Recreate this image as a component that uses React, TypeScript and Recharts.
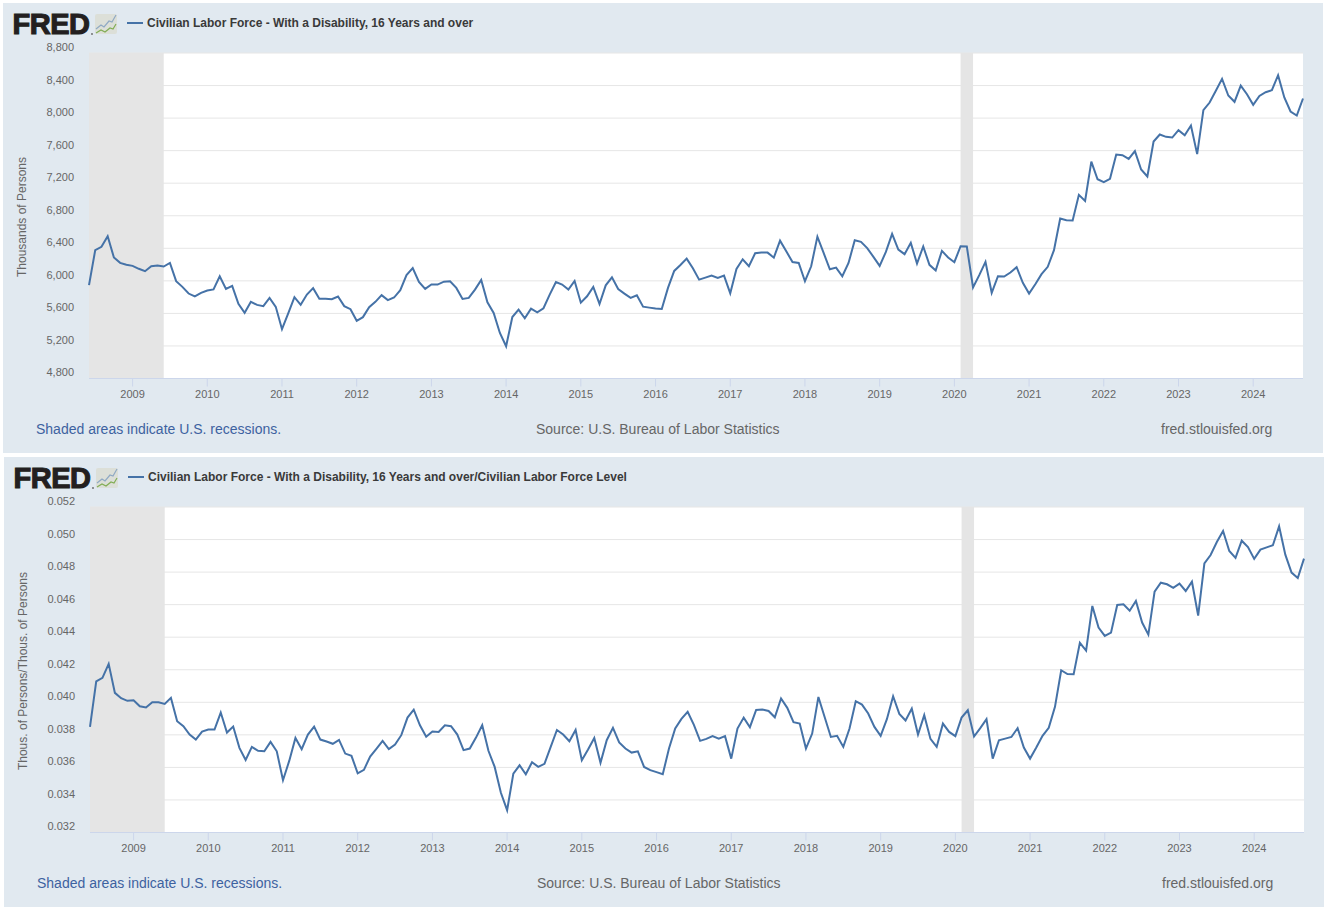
import React from "react";
import { LineChart, Line, XAxis, YAxis, CartesianGrid, ReferenceArea } from "recharts";

const yearLabels = ["2009","2010","2011","2012","2013","2014","2015","2016","2017","2018","2019","2020","2021","2022","2023","2024"];
const yearTicks = [7,19,31,43,55,67,79,91,103,115,127,139,151,163,175,187];
// month index since June 2008
const recessions = [[0,12],[140,142]];

const laborForce = [
5947,6377,6418,6549,6287,6221,6197,6184,6148,6119,6180,6188,6176,6221,5996,5926,5844,5808,5853,5881,
5894,6057,5902,5939,5717,5607,5742,5705,5689,5791,5681,5406,5599,5799,5705,5832,5910,5779,5779,5775,
5808,5689,5652,5509,5554,5677,5742,5824,5763,5795,5885,6070,6156,5988,5902,5955,5954,5990,5995,5913,
5778,5790,5892,6011,5737,5605,5360,5196,5556,5646,5540,5659,5614,5663,5831,5986,5954,5892,5999,5732,
5810,5925,5716,5945,6044,5900,5843,5790,5823,5683,5671,5659,5655,5913,6122,6195,6273,6154,6015,6040,
6064,6036,6064,5847,6146,6265,6179,6339,6347,6347,6285,6494,6363,6232,6220,5995,6179,6543,6343,6142,
6163,6056,6220,6498,6479,6402,6295,6184,6356,6578,6385,6328,6467,6213,6422,6197,6127,6369,6287,6229,
6426,6422,5918,6070,6234,5853,6057,6053,6103,6168,5976,5844,5959,6082,6172,6377,6766,6746,6741,7057,
6983,7466,7249,7213,7254,7552,7544,7499,7594,7368,7282,7712,7798,7770,7761,7852,7790,7909,7557,8097,
8191,8335,8482,8277,8200,8400,8294,8163,8273,8318,8343,8527,8253,8081,8032,8241];

const laborShare = [
0.03849,0.04129,0.04150,0.04236,0.04058,0.04025,0.04009,0.04013,0.03976,0.03968,0.04000,0.04000,0.03990,0.04027,0.03884,0.03853,0.03802,0.03771,0.03820,0.03833,
0.03833,0.03937,0.03814,0.03851,0.03720,0.03646,0.03726,0.03702,0.03699,0.03757,0.03699,0.03521,0.03640,0.03781,0.03712,0.03802,0.03851,0.03771,0.03759,0.03745,
0.03769,0.03685,0.03671,0.03564,0.03585,0.03667,0.03714,0.03763,0.03712,0.03740,0.03798,0.03906,0.03955,0.03859,0.03788,0.03820,0.03818,0.03859,0.03853,0.03802,
0.03706,0.03716,0.03783,0.03859,0.03702,0.03603,0.03444,0.03337,0.03562,0.03613,0.03558,0.03632,0.03603,0.03622,0.03726,0.03830,0.03802,0.03761,0.03830,0.03644,
0.03710,0.03781,0.03628,0.03767,0.03843,0.03753,0.03716,0.03691,0.03699,0.03603,0.03583,0.03571,0.03558,0.03716,0.03839,0.03898,0.03941,0.03861,0.03763,0.03775,
0.03792,0.03777,0.03792,0.03654,0.03839,0.03906,0.03847,0.03953,0.03955,0.03947,0.03908,0.04023,0.03966,0.03878,0.03869,0.03716,0.03808,0.04033,0.03910,0.03787,
0.03794,0.03726,0.03839,0.04007,0.03986,0.03931,0.03849,0.03794,0.03896,0.04037,0.03929,0.03888,0.03961,0.03802,0.03921,0.03775,0.03726,0.03869,0.03818,0.03792,
0.03906,0.03951,0.03790,0.03841,0.03896,0.03654,0.03767,0.03777,0.03787,0.03841,0.03722,0.03654,0.03722,0.03794,0.03843,0.03972,0.04197,0.04174,0.04172,0.04365,
0.04318,0.04592,0.04459,0.04408,0.04428,0.04598,0.04602,0.04563,0.04623,0.04490,0.04416,0.04680,0.04735,0.04725,0.04703,0.04729,0.04684,0.04741,0.04533,0.04854,
0.04905,0.04985,0.05053,0.04930,0.04887,0.04993,0.04954,0.04881,0.04938,0.04952,0.04965,0.05081,0.04907,0.04797,0.04764,0.04883];

const ticksA = [4800,5200,5600,6000,6400,6800,7200,7600,8000,8400,8800];
const ticksB = [0.032,0.034,0.036,0.038,0.04,0.042,0.044,0.046,0.048,0.05,0.052];

const titleA = "Civilian Labor Force - With a Disability, 16 Years and over";
const titleB = "Civilian Labor Force - With a Disability, 16 Years and over/Civilian Labor Force Level";
const unitA = "Thousands of Persons";
const unitB = "Thous. of Persons/Thous. of Persons";
const noteText = "Shaded areas indicate U.S. recessions.";
const sourceText = "Source: U.S. Bureau of Labor Statistics";
const siteText = "fred.stlouisfed.org";

const FONT = '"Liberation Sans", Arial, sans-serif';
const W = 1320;
const H = 450;
const LINE = "#4572a7";

function Logo() {
  return (
    <svg width={112} height={30} style={{ position: "absolute", left: 8, top: 6 }}>
      <text x={1.5} y={25} fontFamily={FONT} fontWeight={700} fontSize={29} letterSpacing={-0.5} fill="#231f20" stroke="#231f20" strokeWidth={1.1}>FRED</text>
      <circle cx={81} cy={25} r={0.9} fill="#666" />
      <rect x={84} y={5} width={22} height={20} rx={2} fill="#dcdfd8" />
      <polyline points="85,20 90,16 93,18 98,12 101,13 105,6" fill="none" stroke="#8fa9c4" strokeWidth={1.2} />
      <polyline points="85,24 90,21 94,23 99,19 102,20 105,15" fill="none" stroke="#82ad55" strokeWidth={1.2} />
    </svg>
  );
}

function YTick(props: any) {
  const { y, payload, fmt } = props;
  return (
    <text x={71} y={y - 2.05} textAnchor="end" fontFamily={FONT} fontSize={11} fill="#666666">{fmt(payload.value)}</text>
  );
}

function XTick(props: any) {
  const { x, y, payload } = props;
  const label = yearLabels[yearTicks.indexOf(payload.value)];
  return (
    <g>
      <line x1={x} x2={x} y1={y - 10} y2={y - 2} stroke="#ccd6eb" strokeWidth={1} />
      <text x={x} y={y + 9} textAnchor="middle" fontFamily={FONT} fontSize={11} fill="#666666">{label}</text>
    </g>
  );
}

function Panel({ left, top, values, ticks, fmt, title, unit }: any) {
  const rows = values.map((value: number, idx: number) => ({ idx, value }));
  return (
    <div style={{ position: "absolute", left, top, width: W, height: H, background: "#e1e9f0", fontFamily: FONT }}>
      <Logo />
      <div style={{ position: "absolute", left: 124, top: 18.5, width: 16, height: 2, background: LINE }} />
      <div style={{ position: "absolute", left: 144, top: 12.5, fontSize: 12, lineHeight: "15px", fontWeight: 700, color: "#3a3a3a", whiteSpace: "nowrap" }}>{title}</div>
      <div style={{ position: "absolute", left: 19, top: 213.5, width: 0, height: 0 }}>
        <div style={{ position: "absolute", transform: "translate(-50%,-50%) rotate(-90deg)", fontSize: 12, color: "#666666", whiteSpace: "nowrap" }}>{unit}</div>
      </div>
      <LineChart width={W} height={H} data={rows} margin={{ top: 50, right: 20, bottom: 44.5, left: 0 }}>
        <CartesianGrid horizontal vertical={false} stroke="#e6e6e6" fill="#ffffff" fillOpacity={1} />
        {recessions.map(([a, b]) => (
          <ReferenceArea key={a} x1={a} x2={b} fill="#e5e5e5" fillOpacity={1} stroke="none" ifOverflow="hidden" />
        ))}
        <XAxis dataKey="idx" type="number" domain={[0, 195]} ticks={yearTicks} interval={0} tick={<XTick />} tickSize={8} tickLine={false} axisLine={{ stroke: "#ccd6eb" }} allowDecimals={false} height={30} />
        <YAxis type="number" width={86} domain={[ticks[0], ticks[ticks.length - 1]]} ticks={ticks} interval={0} tick={<YTick fmt={fmt} />} axisLine={false} tickLine={false} />
        <Line type="linear" dataKey="value" stroke={LINE} strokeWidth={2} dot={false} activeDot={false} isAnimationActive={false} />
      </LineChart>
      <div style={{ position: "absolute", left: 33, top: 418, fontSize: 14, lineHeight: "17px", color: "#3d62a0", whiteSpace: "nowrap" }}>{noteText}</div>
      <div style={{ position: "absolute", left: 533, top: 418, fontSize: 14, lineHeight: "17px", color: "#666666", whiteSpace: "nowrap" }}>{sourceText}</div>
      <div style={{ position: "absolute", left: 1158, top: 418, fontSize: 14, lineHeight: "17px", color: "#666666", whiteSpace: "nowrap" }}>{siteText}</div>
    </div>
  );
}

export default function App() {
  return (
    <div style={{ position: "absolute", left: 0, top: 0, width: 1324, height: 908, background: "#ffffff", overflow: "hidden" }}>
      <Panel left={3} top={3} values={laborForce} ticks={ticksA} fmt={(v: number) => v.toLocaleString("en-US")} title={titleA} unit={unitA} />
      <Panel left={4} top={457} values={laborShare} ticks={ticksB} fmt={(v: number) => v.toFixed(3)} title={titleB} unit={unitB} />
    </div>
  );
}
